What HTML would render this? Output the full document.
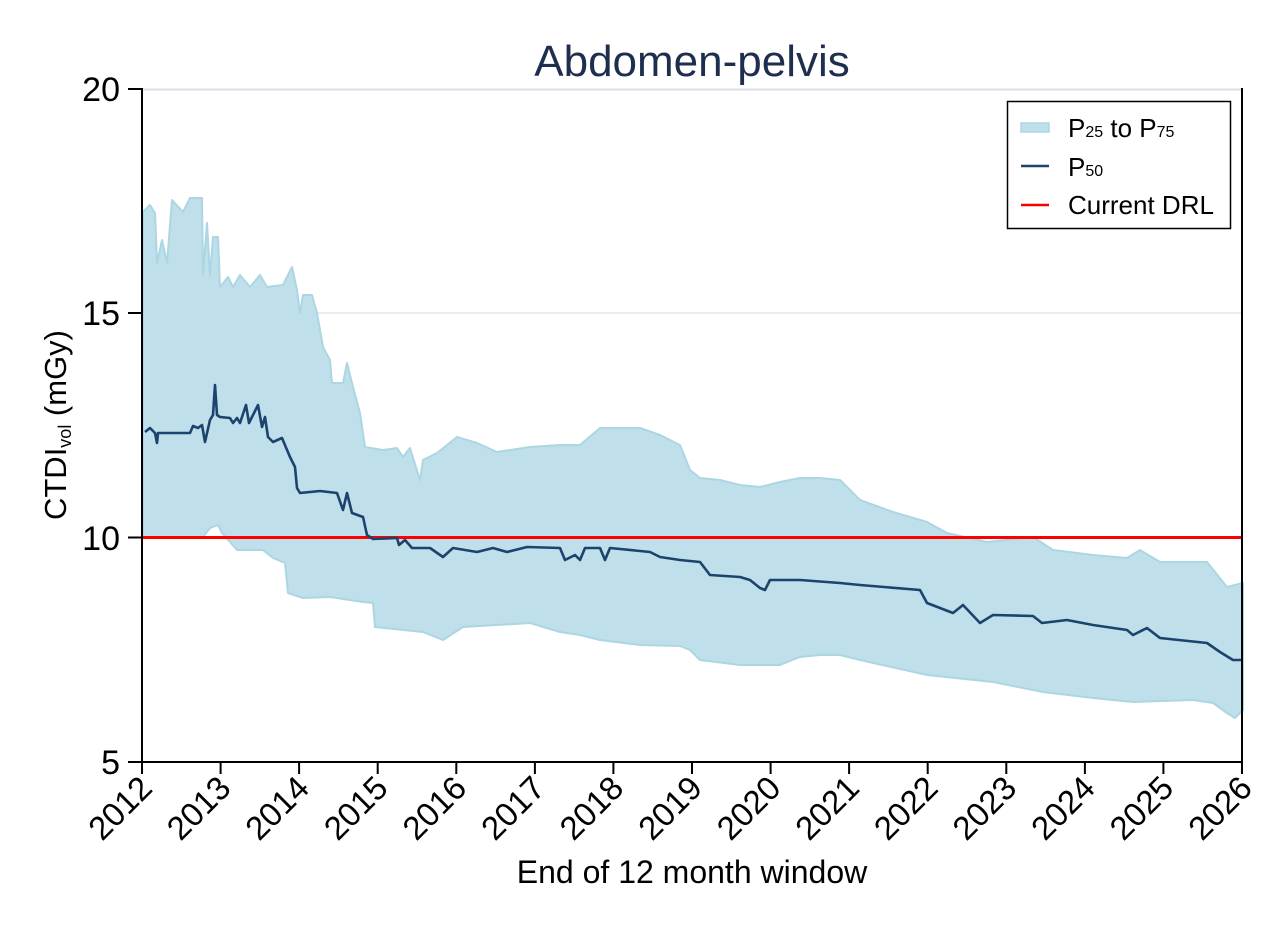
<!DOCTYPE html>
<html><head><meta charset="utf-8"><style>
html,body{margin:0;padding:0;background:#fff;}
svg{display:block;font-family:"Liberation Sans",Arial,sans-serif;}
</style></head><body>
<svg width="1276" height="928" viewBox="0 0 1276 928" xmlns="http://www.w3.org/2000/svg">
<rect width="1276" height="928" fill="#fff"/>
<line x1="142" y1="89.5" x2="1242" y2="89.5" stroke="#d8e2e8" stroke-width="2"/>
<line x1="142" y1="313" x2="1242" y2="313" stroke="#e4eef2" stroke-width="2"/>
<polygon fill="#bfe0ea" stroke="#acd6e3" stroke-width="2" stroke-linejoin="round" points="
143,537 143,212 145,210 150,205 155,213 157,263 162,240 167,263 172,200 183,212 190,198 202,198 203,275 207,223 210,275 213,237 218,237 220,287 228,277 233,287 240,275 250,287 260,275 267,287 283,285 292,267 297,290 300,313 303,295 312,295 317,313 323,347 330,360 332,383 343,383 347,363 353,387 360,413 365,447 383,450 397,448 403,457 410,448 420,480 423,460 437,453 457,437 477,443 497,452 530,447 560,445 580,445 600,428 640,428 660,435 680,445 690,470 700,478 720,480 740,485 760,487 780,482 800,478 820,478 840,480 860,500 893,512 927,522 947,533 987,542 1033,537 1053,550 1093,555 1127,558 1140,550 1160,562 1207,562 1227,587 1243,583
1243,710 1235,718 1227,713 1213,703 1193,700 1133,702 1093,698 1043,692 993,682 927,675 860,660 840,655 820,655 800,657 780,665 740,665 700,660 690,650 680,646 640,645 600,640 580,635 560,632 530,623 463,627 443,640 423,632 375,627 373,603 363,602 330,597 303,598 288,593 285,563 273,558 263,550 237,550 230,542 222,533 218,525 210,528 203,537"/>
<line x1="142" y1="537.5" x2="1242" y2="537.5" stroke="#ff0000" stroke-width="3"/>
<polyline fill="none" stroke="#1b436d" stroke-width="2.6" stroke-linejoin="round" points="
145,432 150,428 155,433 157,443 158,433 190,433 193,426 198,428 202,425 205,442 210,420 213,415 215,385 217,415 220,417 230,418 233,423 237,418 240,423 246,405 249,423 258,405 262,427 265,417 268,437 273,442 282,438 290,457 295,467 297,488 300,493 320,491 337,493 343,510 347,493 352,513 363,517 367,535 373,539 397,538 399,545 405,540 412,548 430,548 443,557 453,548 477,552 493,548 507,552 527,547 560,548 565,560 575,555 580,560 585,548 600,548 605,560 610,548 650,552 660,557 680,560 700,562 710,575 740,577 750,580 760,588 765,590 770,580 800,580 840,583 860,585 920,590 927,603 953,613 963,605 980,623 993,615 1033,616 1042,623 1067,620 1093,625 1127,630 1133,635 1147,628 1160,638 1207,643 1220,652 1233,660 1243,660"/>
<g stroke="#000" stroke-width="2">
<line x1="142" y1="88" x2="142" y2="763"/>
<line x1="1242" y1="88" x2="1242" y2="763"/>
<line x1="141" y1="762" x2="1243" y2="762"/>
<line x1="128" y1="89" x2="142" y2="89"/>
<line x1="128" y1="313" x2="142" y2="313"/>
<line x1="128" y1="537.5" x2="142" y2="537.5"/>
<line x1="128" y1="762" x2="142" y2="762"/>
</g>
<g stroke="#000" stroke-width="2">
<line x1="142" y1="762" x2="142" y2="774"/><line x1="220.6" y1="762" x2="220.6" y2="774"/><line x1="299.1" y1="762" x2="299.1" y2="774"/><line x1="377.7" y1="762" x2="377.7" y2="774"/><line x1="456.3" y1="762" x2="456.3" y2="774"/><line x1="534.9" y1="762" x2="534.9" y2="774"/><line x1="613.4" y1="762" x2="613.4" y2="774"/><line x1="692" y1="762" x2="692" y2="774"/><line x1="770.6" y1="762" x2="770.6" y2="774"/><line x1="849.1" y1="762" x2="849.1" y2="774"/><line x1="927.7" y1="762" x2="927.7" y2="774"/><line x1="1006.3" y1="762" x2="1006.3" y2="774"/><line x1="1084.9" y1="762" x2="1084.9" y2="774"/><line x1="1163.4" y1="762" x2="1163.4" y2="774"/><line x1="1242" y1="762" x2="1242" y2="774"/>
</g>
<g font-size="34" fill="#000" text-anchor="end">
<text x="120" y="101">20</text>
<text x="120" y="325">15</text>
<text x="120" y="550">10</text>
<text x="120" y="774">5</text>
</g>
<g font-size="33" fill="#000" text-anchor="end">
<text transform="translate(154,790) rotate(-45)">2012</text>
<text transform="translate(232.6,790) rotate(-45)">2013</text>
<text transform="translate(311.1,790) rotate(-45)">2014</text>
<text transform="translate(389.7,790) rotate(-45)">2015</text>
<text transform="translate(468.3,790) rotate(-45)">2016</text>
<text transform="translate(546.9,790) rotate(-45)">2017</text>
<text transform="translate(625.4,790) rotate(-45)">2018</text>
<text transform="translate(704,790) rotate(-45)">2019</text>
<text transform="translate(782.6,790) rotate(-45)">2020</text>
<text transform="translate(861.1,790) rotate(-45)">2021</text>
<text transform="translate(939.7,790) rotate(-45)">2022</text>
<text transform="translate(1018.3,790) rotate(-45)">2023</text>
<text transform="translate(1096.9,790) rotate(-45)">2024</text>
<text transform="translate(1175.4,790) rotate(-45)">2025</text>
<text transform="translate(1254,790) rotate(-45)">2026</text>
</g>
<text x="692" y="76" font-size="44" fill="#1e2e4e" text-anchor="middle">Abdomen-pelvis</text>
<text x="692" y="883" font-size="32" fill="#000" text-anchor="middle">End of 12 month window</text>
<text transform="translate(66,425) rotate(-90)" font-size="31" fill="#000" text-anchor="middle">CTDI<tspan font-size="18" dy="5">vol</tspan><tspan dy="-5"> (mGy)</tspan></text>
<rect x="1007.5" y="101.5" width="223" height="127" fill="#fff" stroke="#000" stroke-width="1.5"/>
<rect x="1021" y="123" width="28" height="9" fill="#bfe0ea" stroke="#acd6e3" stroke-width="1.5"/>
<line x1="1021" y1="166" x2="1049" y2="166" stroke="#1b436d" stroke-width="2.5"/>
<line x1="1021" y1="205" x2="1049" y2="205" stroke="#ff0000" stroke-width="2.5"/>
<g font-size="26" fill="#000">
<text x="1068" y="137">P<tspan font-size="16">25</tspan> to P<tspan font-size="16">75</tspan></text>
<text x="1068" y="176">P<tspan font-size="16">50</tspan></text>
<text x="1068" y="214">Current DRL</text>
</g>
</svg>
</body></html>
